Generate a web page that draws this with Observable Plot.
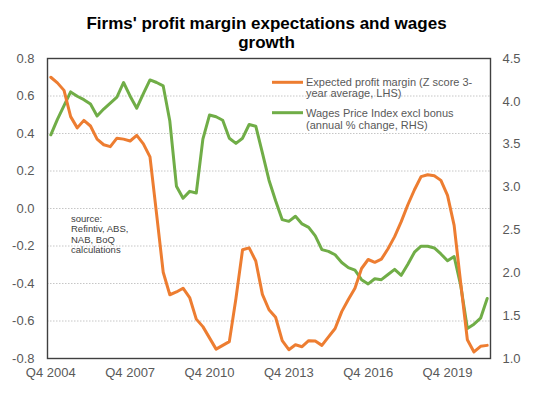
<!DOCTYPE html>
<html><head><meta charset="utf-8">
<script src="https://cdn.jsdelivr.net/npm/d3@7"></script>
<script src="https://cdn.jsdelivr.net/npm/@observablehq/plot@0.6"></script>
<style>
body{margin:0;background:#fff;font-family:"Liberation Sans",Arial,sans-serif;}
#wrap{width:533px;height:395px;position:relative;overflow:hidden;background:#fff}
#title{font-weight:bold;font-size:17px;text-align:center;color:#000;padding-top:13.5px;height:50px;width:533px;box-sizing:border-box;overflow:visible}
#title div{line-height:19px;height:19px}
#chart svg{display:block}
</style></head><body>
<div id="wrap">
<div id="title"><div>Firms' profit margin expectations and wages</div><div>growth</div></div>
<div id="chart"></div>
</div>
<script>
// Quarterly series, Q4 2004 .. Q2 2021
const profitMargin = [
  0.70, 0.67, 0.63, 0.49, 0.43, 0.47, 0.44, 0.37, 0.34, 0.33,
  0.375, 0.37, 0.36, 0.39, 0.345, 0.275, -0.03, -0.34, -0.46, -0.445,
  -0.425, -0.475, -0.59, -0.63, -0.69, -0.75, -0.73, -0.71, -0.48, -0.22,
  -0.21, -0.28, -0.458, -0.54, -0.58, -0.705, -0.753, -0.727, -0.737, -0.705,
  -0.707, -0.73, -0.685, -0.64, -0.55, -0.485, -0.425, -0.32, -0.272, -0.287,
  -0.27, -0.215, -0.15, -0.07, 0.02, 0.10, 0.17, 0.18, 0.175, 0.15,
  0.07, -0.09, -0.40, -0.70, -0.765, -0.735, -0.73
];
const wagesGrowth = [
  3.61, 3.79, 3.95, 4.11, 4.06, 4.02, 3.97, 3.83, 3.91, 3.98,
  4.05, 4.22, 4.06, 3.92, 4.09, 4.25, 4.22, 4.18, 3.77, 3.01,
  2.87, 2.95, 2.93, 3.56, 3.84, 3.82, 3.78, 3.57, 3.51, 3.57,
  3.73, 3.71, 3.40, 3.08, 2.84, 2.62, 2.60, 2.66, 2.57, 2.53,
  2.43, 2.27, 2.25, 2.21, 2.12, 2.06, 2.03, 1.92, 1.87, 1.93,
  1.92, 1.98, 2.04, 1.97, 2.10, 2.24, 2.31, 2.31, 2.29, 2.22,
  2.14, 2.19, 1.85, 1.35, 1.40, 1.47, 1.70
];
const startYear = 2004, startQuarter = 4;
const xTickIndex = [0, 12, 24, 36, 48, 60];
const xTickLabels = ["Q4 2004", "Q4 2007", "Q4 2010", "Q4 2013", "Q4 2016", "Q4 2019"];
const leftTicks = [-0.8, -0.6, -0.4, -0.2, 0.0, 0.2, 0.4, 0.6, 0.8];
const gridTicks = [-0.6, -0.4, -0.2, 0.0, 0.2, 0.4, 0.6];
const rightTicks = [1.0, 1.5, 2.0, 2.5, 3.0, 3.5, 4.0, 4.5];
const seriesNames = [
  ["Expected profit margin (Z score 3-", "year average, LHS)"],
  ["Wages Price Index excl bonus", "(annual % change, RHS)"]
];
const sourceNote = ["source:", "Refintiv, ABS,", "NAB, BoQ", "calculations"];
const colors = ["#ED7D31", "#70AD47"];

const quarterLabel = i => {
  const q0 = startYear * 4 + (startQuarter - 1) + i;
  return "Q" + (q0 % 4 + 1) + " " + Math.floor(q0 / 4);
};
const toLeft = d3.scaleLinear([1.0, 4.5], [-0.8, 0.8]);
const profitRows = profitMargin.map((v, i) => ({i, q: quarterLabel(i), v}));
const wagesRows = wagesGrowth.map((v, i) => ({i, q: quarterLabel(i), raw: v, v: toLeft(v)}));

const W = 533, H = 345;
const chart = Plot.plot({
  width: W, height: H,
  marginTop: 8, marginBottom: 37, marginLeft: 47, marginRight: 43,
  style: {fontFamily: "'Liberation Sans', Arial, sans-serif", fontSize: "13px", color: "#595959", background: "#fff"},
  x: {domain: [-0.5, profitMargin.length - 0.5], label: null},
  y: {domain: [-0.8, 0.8], label: null},
  marks: [
    Plot.gridY(gridTicks, {stroke: "#c6c6c6", strokeOpacity: 1, strokeDasharray: "1.5,1.5", strokeWidth: 1}),
    Plot.axisX(xTickIndex, {tickSize: 0, tickPadding: 9, tickFormat: (d, k) => xTickLabels[k], label: null, fontSize: 13}),
    Plot.axisY(leftTicks, {anchor: "left", tickSize: 0, tickPadding: 13, tickFormat: d => (Math.abs(d) < 1e-9 ? 0 : d).toFixed(1), label: null, fontSize: 13}),
    Plot.axisY(rightTicks.map(toLeft), {anchor: "right", tickSize: 0, tickPadding: 12, tickFormat: (d, k) => rightTicks[k].toFixed(1), label: null, fontSize: 13}),
    Plot.line(wagesRows, {x: "i", y: "v", stroke: colors[1], strokeWidth: 3, strokeLinejoin: "round", strokeLinecap: "round"}),
    Plot.line(profitRows, {x: "i", y: "v", stroke: colors[0], strokeWidth: 3, strokeLinejoin: "round", strokeLinecap: "round"}),
    Plot.frame({stroke: "#404040", strokeWidth: 1.4})
  ]
});
document.getElementById("chart").appendChild(chart);

// legend and source note
const svg = d3.select(chart);
const leg = svg.append("g").attr("font-family", "'Liberation Sans', Arial, sans-serif").attr("font-size", 11)
  .attr("fill", "#595959").attr("text-anchor", "start");
const legY = [[32.3, 43.5], [62.7, 74.8]];
seriesNames.forEach((lines, k) => {
  leg.append("line").attr("x1", 272).attr("x2", 303).attr("y1", legY[k][0]).attr("y2", legY[k][0])
    .attr("stroke", colors[k]).attr("stroke-width", 3);
  lines.forEach((t, j) => {
    leg.append("text").attr("x", 306).attr("y", legY[k][j]).attr("dy", "0.35em").text(t);
  });
});
const src = svg.append("g").attr("font-family", "'Liberation Sans', Arial, sans-serif").attr("font-size", 9.5)
  .attr("fill", "#404040").attr("text-anchor", "start");
sourceNote.forEach((t, j) => {
  src.append("text").attr("x", 71).attr("y", 168.3 + j * 10.6).attr("dy", "0.35em").text(t);
});
</script>
</body></html>
